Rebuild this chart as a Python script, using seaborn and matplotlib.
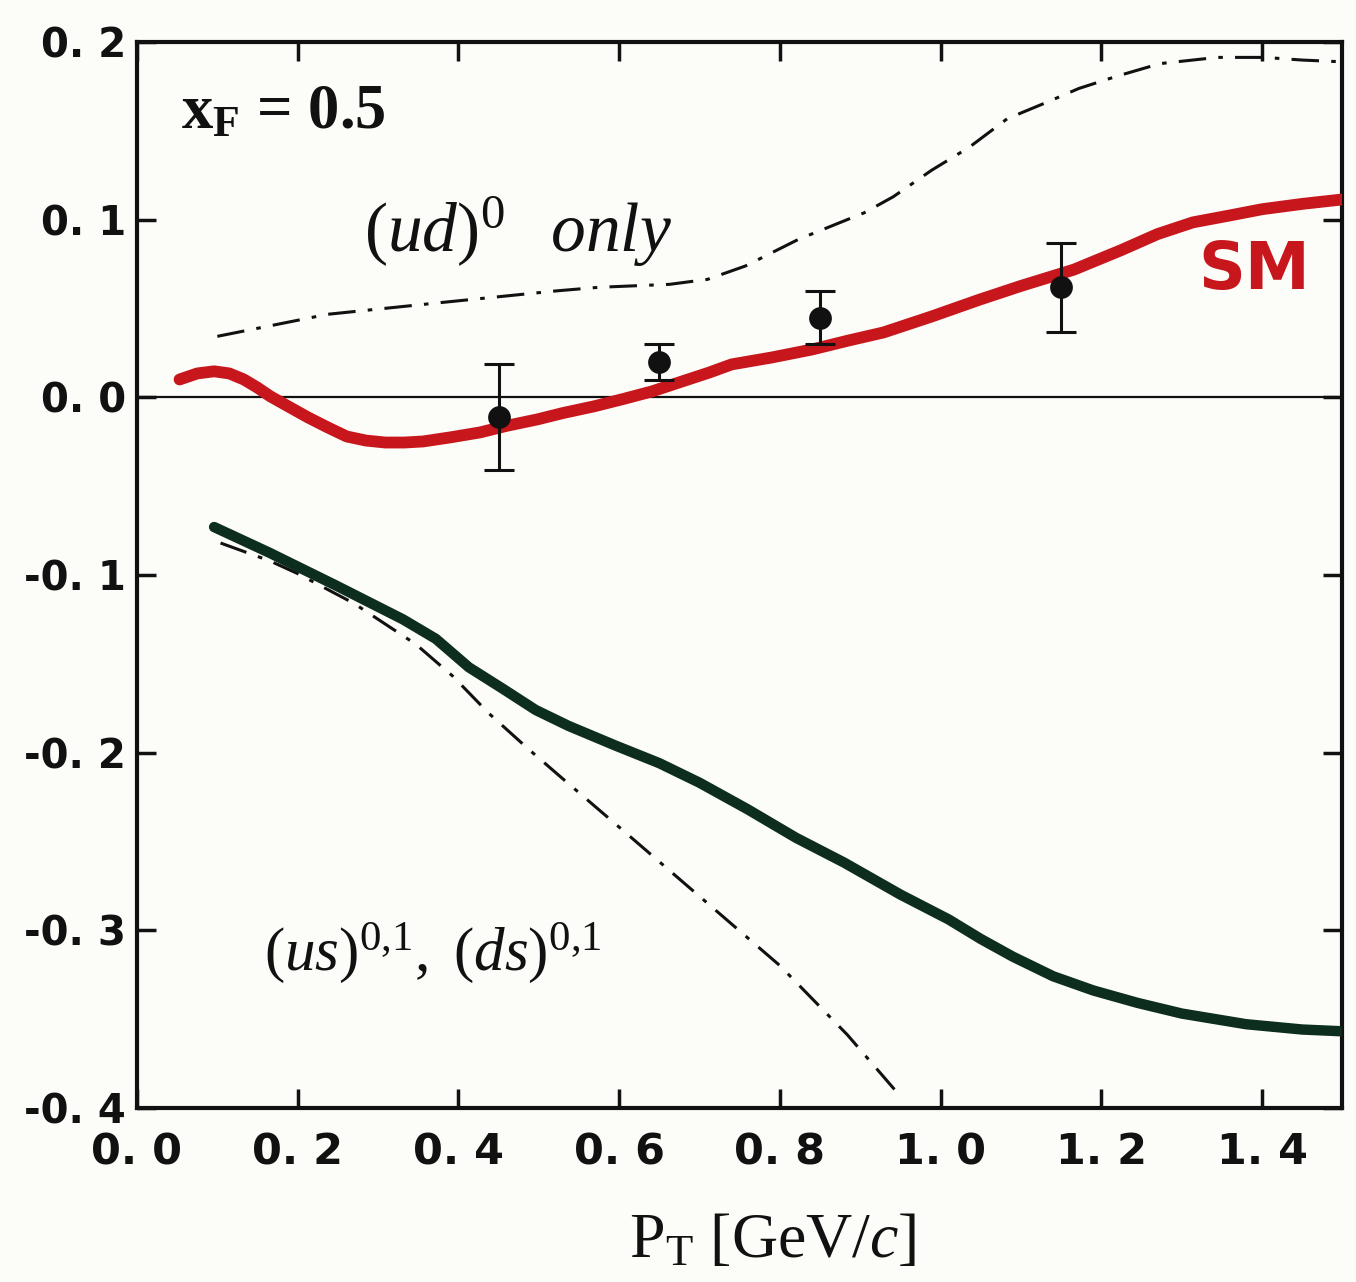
import numpy as np
import pandas as pd
import matplotlib
matplotlib.use("Agg")
import matplotlib.pyplot as plt
import seaborn as sns

# ---------------- data ----------------
sm_x = [0.053, 0.075, 0.096, 0.115, 0.133, 0.150, 0.166, 0.19, 0.213, 0.237, 0.261,
        0.285, 0.309, 0.333, 0.356, 0.39, 0.427, 0.46, 0.498, 0.53, 0.569, 0.605,
        0.641, 0.675, 0.712, 0.74, 0.79, 0.84, 0.885, 0.929, 0.989, 1.048, 1.10,
        1.166, 1.225, 1.27, 1.314, 1.36, 1.40, 1.45, 1.50]
sm_y = [0.0101, 0.0135, 0.0147, 0.0135, 0.0101, 0.0055, 0.0006, -0.0055, -0.0113,
        -0.0168, -0.022, -0.0243, -0.0254, -0.0254, -0.0248, -0.0225, -0.0197, -0.016,
        -0.0124, -0.0088, -0.005, -0.0009, 0.0034, 0.0085, 0.014, 0.0186, 0.0225,
        0.027, 0.032, 0.0366, 0.0456, 0.055, 0.0628, 0.072, 0.083, 0.092, 0.0986,
        0.1025, 0.106, 0.109, 0.1115]

ud_x = [0.10, 0.237, 0.38, 0.522, 0.574, 0.663, 0.71, 0.757, 0.823, 0.905, 0.941,
        0.989, 1.036, 1.083, 1.131, 1.172, 1.22, 1.273, 1.344, 1.403, 1.45, 1.50]
ud_y = [0.0344, 0.0468, 0.0535, 0.060, 0.062, 0.0637, 0.0665, 0.074, 0.089, 0.104,
        0.113, 0.128, 0.141, 0.157, 0.166, 0.174, 0.181, 0.188, 0.1915, 0.1915,
        0.190, 0.189]

us_x = [0.096, 0.165, 0.248, 0.331, 0.372, 0.413, 0.455, 0.496, 0.537, 0.595, 0.65,
        0.70, 0.76, 0.82, 0.88, 0.95, 1.01, 1.05, 1.09, 1.14, 1.19, 1.245, 1.30,
        1.38, 1.45, 1.50]
us_y = [-0.073, -0.0875, -0.106, -0.125, -0.136, -0.152, -0.164, -0.176, -0.185,
        -0.196, -0.206, -0.217, -0.232, -0.248, -0.262, -0.280, -0.294, -0.305,
        -0.315, -0.326, -0.334, -0.341, -0.347, -0.353, -0.356, -0.357]

usdd_x = [0.104, 0.165, 0.199, 0.27, 0.347, 0.393, 0.438, 0.487, 0.533, 0.60, 0.70,
          0.80, 0.884, 0.945]
usdd_y = [-0.082, -0.092, -0.099, -0.116, -0.139, -0.157, -0.178, -0.198, -0.216,
          -0.242, -0.281, -0.320, -0.359, -0.391]

data_x = [0.45, 0.65, 0.85, 1.15]
data_y = [-0.011, 0.020, 0.045, 0.062]
data_err = [0.030, 0.010, 0.015, 0.025]

xticks = [0.0, 0.2, 0.4, 0.6, 0.8, 1.0, 1.2, 1.4]
xtick_labels = ["0. 0", "0. 2", "0. 4", "0. 6", "0. 8", "1. 0", "1. 2", "1. 4"]
yticks = [0.2, 0.1, 0.0, -0.1, -0.2, -0.3, -0.4]
ytick_labels = ["0. 2", "0. 1", "0. 0", "-0. 1", "-0. 2", "-0. 3", "-0. 4"]

# ---------------- style ----------------
sns.set_theme(style="ticks")
plt.rcParams["font.family"] = ["DejaVu Sans"]
plt.rcParams["mathtext.fontset"] = "custom"
plt.rcParams["mathtext.rm"] = "Liberation Serif"
plt.rcParams["mathtext.it"] = "Liberation Serif:italic"
plt.rcParams["mathtext.bf"] = "Liberation Serif:bold"

bg = "#fcfdf9"
fig = plt.figure(figsize=(13.56, 12.82), dpi=100, facecolor=bg)
ax = fig.add_axes([0.101, 0.136, 0.889, 0.831])
ax.set_facecolor(bg)

red = "#c8161d"
green = "#0d2e1e"
ink = "#111111"
dd = (9, 4, 1.5, 4)

ax.axhline(0.0, color=ink, lw=1.6, zorder=1)

df_ud = pd.DataFrame({"x": ud_x, "y": ud_y})
sns.lineplot(data=df_ud, x="x", y="y", ax=ax, color=ink, lw=2.2, sort=False,
             estimator=None, zorder=2)
ax.lines[-1].set_dashes(dd)

df_dd = pd.DataFrame({"x": usdd_x, "y": usdd_y})
sns.lineplot(data=df_dd, x="x", y="y", ax=ax, color=ink, lw=2.2, sort=False,
             estimator=None, zorder=2)
ax.lines[-1].set_dashes(dd)

df_us = pd.DataFrame({"x": us_x, "y": us_y})
sns.lineplot(data=df_us, x="x", y="y", ax=ax, color=green, lw=7.5, sort=False,
             estimator=None, zorder=3, solid_capstyle="round", solid_joinstyle="round")

df_sm = pd.DataFrame({"x": sm_x, "y": sm_y})
sns.lineplot(data=df_sm, x="x", y="y", ax=ax, color=red, lw=8.5, sort=False,
             estimator=None, zorder=3, solid_capstyle="round", solid_joinstyle="round")

ax.errorbar(data_x, data_y, yerr=data_err, fmt="none", ecolor=ink, elinewidth=2.2,
            capsize=11, capthick=2.2, zorder=4)
df_pts = pd.DataFrame({"x": data_x, "y": data_y})
sns.scatterplot(data=df_pts, x="x", y="y", ax=ax, color=ink, s=230, edgecolor=ink,
                zorder=5, legend=False)

ax.set_xlim(0.0, 1.5)
ax.set_ylim(-0.4, 0.2)
ax.set_xticks(xticks)
ax.set_xticklabels(xtick_labels)
ax.set_yticks(yticks)
ax.set_yticklabels(ytick_labels)
ax.tick_params(axis="both", which="major", direction="in", length=14, width=2.5,
               top=True, right=True, labelsize=29, colors=ink)
ax.tick_params(axis="x", pad=17, labelsize=31)
ax.tick_params(axis="y", pad=8)
for lab in ax.get_xticklabels() + ax.get_yticklabels():
    lab.set_fontweight("bold")
for sp in ax.spines.values():
    sp.set_linewidth(3)
    sp.set_color(ink)

ax.set_xlabel(r"P$_\mathrm{T}$ [GeV/$c$]", fontsize=46, family="Liberation Serif",
              color=ink)
ax.xaxis.set_label_coords(0.527, -0.099)
ax.set_ylabel("")

ax.text(0.055, 0.160, r"x$_\mathbf{F}$ = 0.5", fontsize=45, color=ink,
        family="Liberation Serif", fontweight="bold", va="center", ha="left")
ax.text(0.283, 0.093, r"$(\mathit{ud})^0$  $\mathit{only}$", fontsize=50, color=ink,
        va="center", ha="left")
ax.text(0.158, -0.313, r"$(\mathit{us})^{0{,}1},\ (\mathit{ds})^{0{,}1}$", fontsize=44,
        color=ink, va="center", ha="left")
ax.text(1.39, 0.071, "SM", fontsize=47, fontweight="bold", color=red,
        va="center", ha="center", family="DejaVu Sans")

fig.savefig("out.png", dpi=100, facecolor=bg)
